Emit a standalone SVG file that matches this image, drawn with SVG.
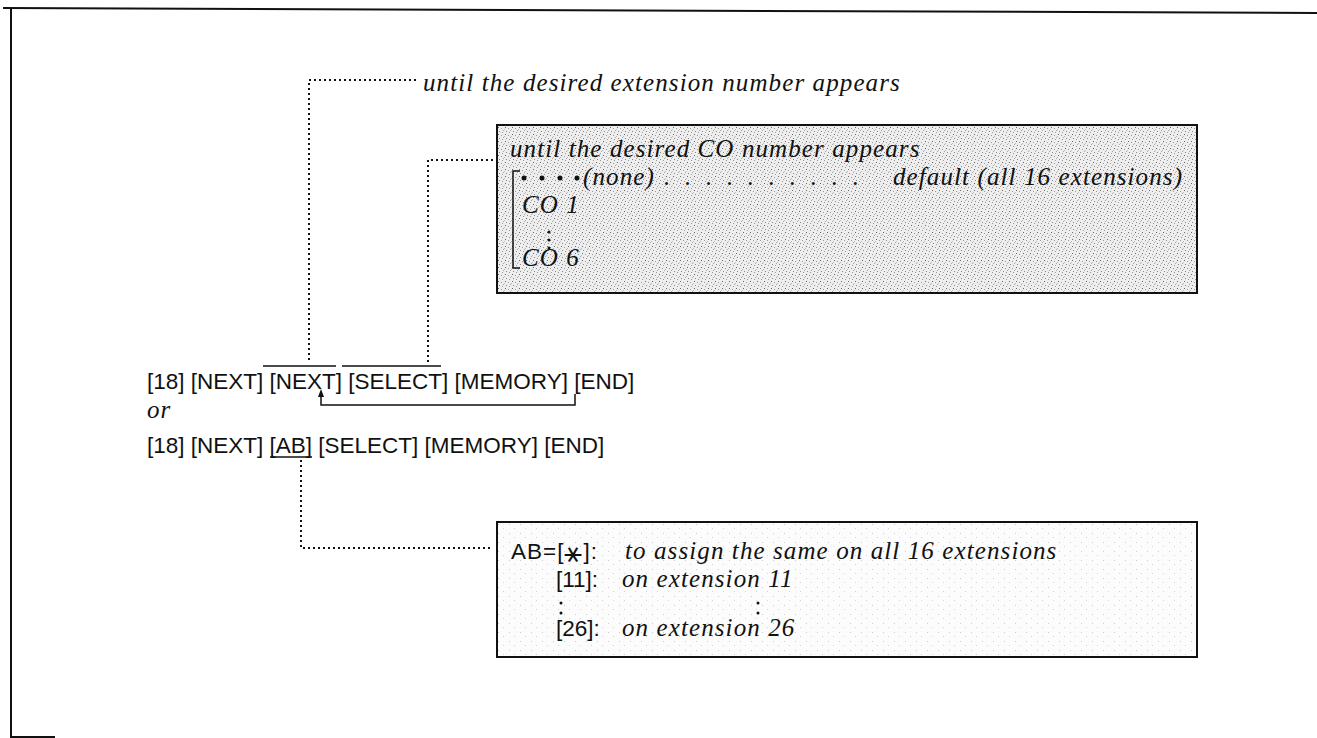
<svg xmlns="http://www.w3.org/2000/svg" width="1317" height="738" viewBox="0 0 1317 738">
<style>
.sans{font-family:"Liberation Sans",Arial,sans-serif;font-size:22.5px;fill:#111}
.it{font-family:"Liberation Serif","Times New Roman",serif;font-style:italic;font-size:25px;letter-spacing:1.1px;fill:#111}
.frame{fill:none;stroke:#111;stroke-width:2}
.dot{fill:none;stroke:#111;stroke-width:2;stroke-dasharray:2 3}
.solid{fill:none;stroke:#111;stroke-width:1.5}
.box{stroke:#111;stroke-width:2}
</style>
<defs>
<pattern id="stip" width="7" height="7" patternUnits="userSpaceOnUse">
<rect width="7" height="7" fill="#eeeeee"/>
<rect x="1" y="1" width="1" height="1" fill="#666"/>
<rect x="4" y="2" width="1" height="1" fill="#999"/>
<rect x="2" y="5" width="1" height="1" fill="#888"/>
<rect x="6" y="4" width="1" height="1" fill="#aaa"/>
<rect x="5" y="6" width="1" height="1" fill="#999"/>
<rect x="0" y="3" width="1" height="1" fill="#bbb"/>
</pattern>
<pattern id="stip2" width="11" height="9" patternUnits="userSpaceOnUse">
<rect width="11" height="9" fill="#fcfcfc"/>
<rect x="3" y="2" width="1" height="1" fill="#ccc"/>
<rect x="8" y="6" width="1" height="1" fill="#d4d4d4"/>
</pattern>
</defs>
<rect width="1317" height="738" fill="#fff"/>
<g id="frame">
<path class="frame" d="M3 8 L1317 13"/>
<path class="frame" d="M11 8 L11 737 L55 737"/>
</g>
<g id="connectors">
<path class="dot" d="M309 360 L309 80 L418 80"/>
<path class="dot" d="M428 362 L428 160 L495 160"/>
<path class="dot" d="M301 460 L301 548 L490 548"/>
<path class="solid" d="M575 394 L575 405 L321 405 L321 393"/>
<path d="M321 389 L324 397 L318 397 Z" fill="#111"/>
</g>
<g id="note-ext">
<text class="it" x="423" y="91">until the desired extension number appears</text>
</g>
<g id="box-co">
<rect class="box" x="497" y="125" width="700" height="168" fill="url(#stip)"/>
<text class="it" x="510" y="157">until the desired CO number appears</text>
<path class="solid" d="M520 171 L513 171 L513 268 L520 268"/>
<g fill="#111"><circle cx="524" cy="178" r="2.5"/><circle cx="542" cy="178" r="2.5"/><circle cx="560" cy="178" r="2.5"/><circle cx="577" cy="178" r="2.5"/></g>
<text class="it" x="583" y="185">(none)</text>
<text class="it" x="664" y="185" textLength="196" lengthAdjust="spacing">. . . . . . . . . .</text>
<text class="it" x="893" y="185">default (all 16 extensions)</text>
<text class="it" x="522" y="213">CO 1</text>
<g fill="#111"><circle cx="549" cy="232" r="1.5"/><circle cx="549" cy="240" r="1.5"/><circle cx="549" cy="248" r="1.5"/></g>
<text class="it" x="522" y="266">CO 6</text>
</g>
<g id="seq1">
<text class="sans" x="147" y="389">[18] [NEXT] [NEXT] [SELECT] [MEMORY] [END]</text>
<path class="solid" d="M263 366 L336 366 M342 366 L441 366"/>
</g>
<g id="or">
<text class="it" x="147" y="418">or</text>
</g>
<g id="seq2">
<text class="sans" x="147" y="453">[18] [NEXT] [AB] [SELECT] [MEMORY] [END]</text>
<path class="solid" d="M270 457 L312 457"/>
</g>
<g id="box-ab">
<rect class="box" x="497" y="522" width="700" height="135" fill="url(#stip2)"/>
<text class="sans" x="511" y="559" letter-spacing="1">AB=[<tspan font-family="DejaVu Sans" font-size="30" dy="3">⚹</tspan><tspan dy="-3">]:</tspan></text>
<text class="it" x="625" y="559">to assign the same on all 16 extensions</text>
<text class="sans" x="556" y="587">[11]:</text>
<text class="it" x="622" y="587">on extension 11</text>
<g fill="#111"><circle cx="561" cy="603" r="1.5"/><circle cx="561" cy="613" r="1.5"/><circle cx="758" cy="603" r="1.5"/><circle cx="758" cy="613" r="1.5"/></g>
<text class="sans" x="556" y="636">[26]:</text>
<text class="it" x="622" y="636">on extension 26</text>
</g>
</svg>
